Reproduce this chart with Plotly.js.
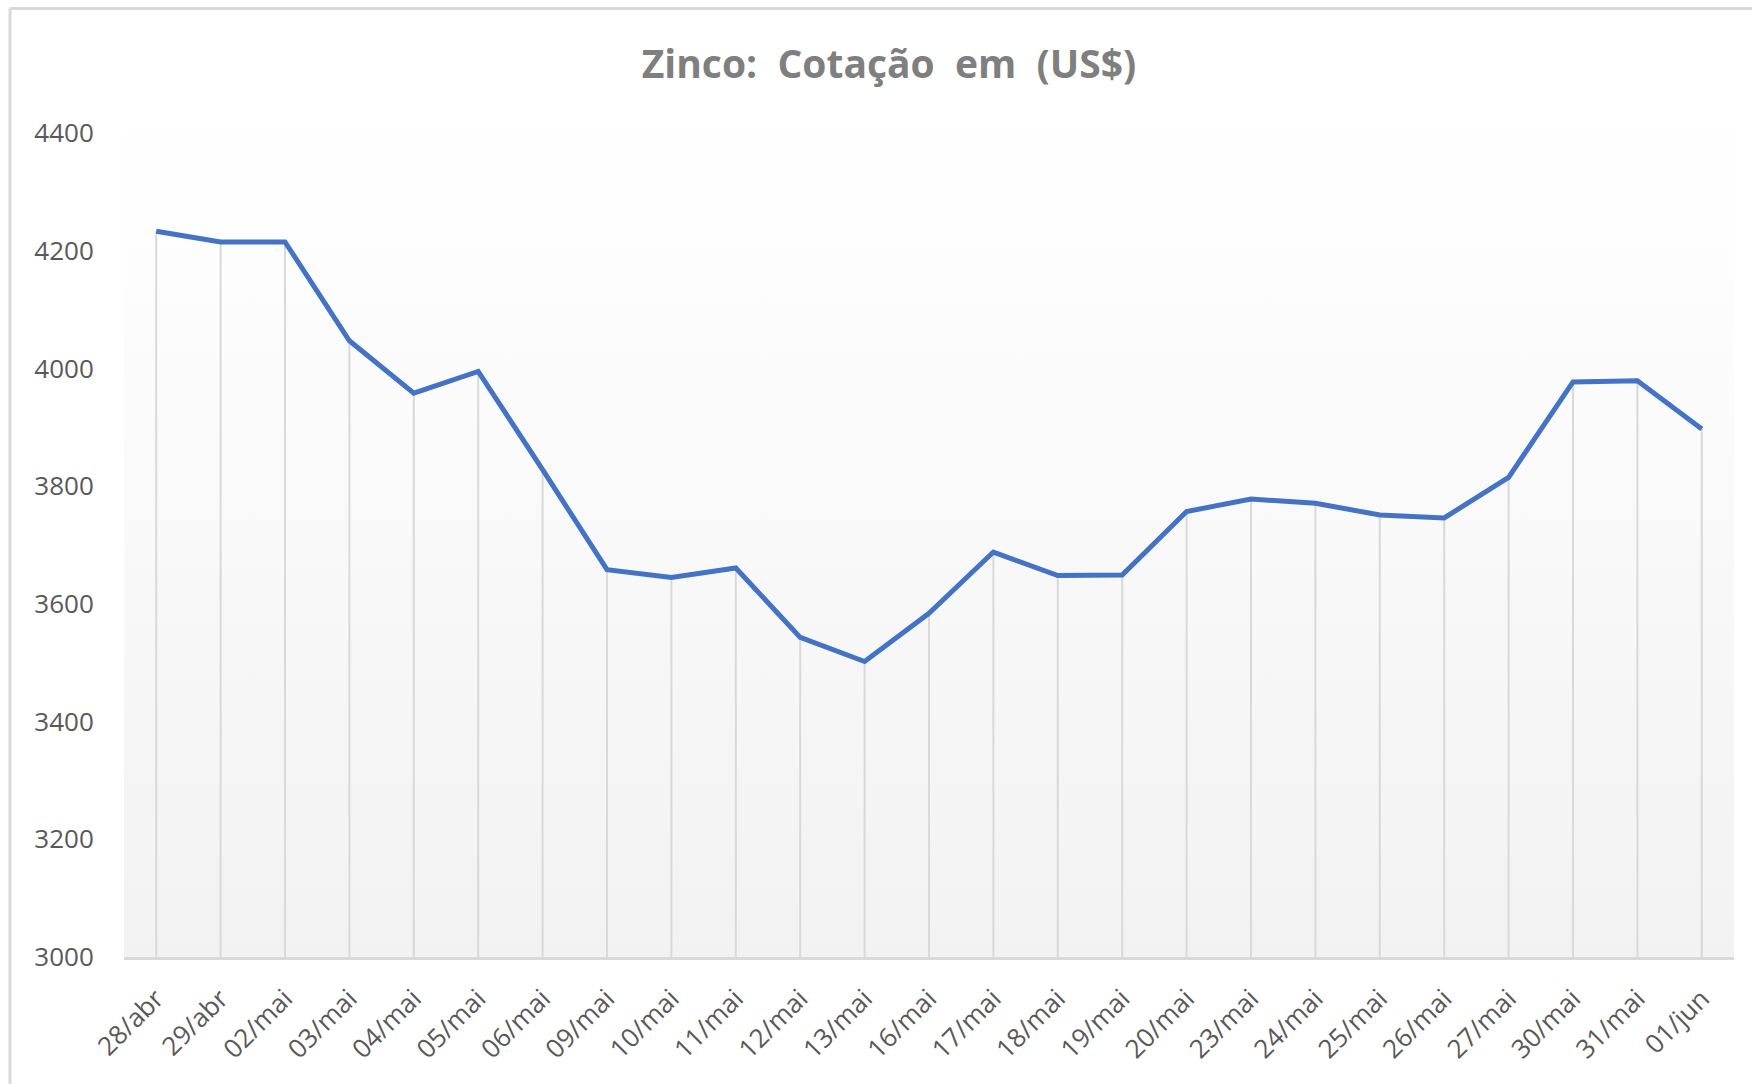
<!DOCTYPE html>
<html>
<head>
<meta charset="utf-8">
<script src="https://cdn.plot.ly/plotly-3.0.1.min.js"></script>
<style>
  html, body { margin: 0; padding: 0; background: #ffffff; }
  #chart { width: 1752px; height: 1084px; }
</style>
</head>
<body>
<div id="chart"></div>
<script>
// ---- Data ----
const chartTitle = "Zinco:&nbsp; Cotação&nbsp; em&nbsp; (US$)";
const dates = ["28/abr","29/abr","02/mai","03/mai","04/mai","05/mai","06/mai","09/mai","10/mai","11/mai","12/mai","13/mai","16/mai","17/mai","18/mai","19/mai","20/mai","23/mai","24/mai","25/mai","26/mai","27/mai","30/mai","31/mai","01/jun"];
const prices = [4233, 4215, 4215, 4047, 3958, 3995, 3828, 3658, 3645, 3661, 3543, 3502, 3584, 3688, 3648, 3649, 3757, 3778, 3771, 3751, 3746, 3815, 3977, 3979, 3897];
const yTicks = [3000, 3200, 3400, 3600, 3800, 4000, 4200, 4400];

// ---- Derived ----
const yMin = yTicks[0];
const yMax = yTicks[yTicks.length - 1];
const idx = dates.map((d, i) => i);
const xRange = [-0.5, dates.length - 0.5];

// drop lines from axis to each point
const dropX = [], dropY = [];
prices.forEach((v, i) => { dropX.push(i, i, null); dropY.push(yMin, v, null); });

const bgTrace = {
  x: xRange, y: [yMax, yMax],
  mode: 'none', fill: 'tozeroy',
  fillgradient: { type: 'vertical', start: yMin, stop: 4250,
    colorscale: [[0, '#f2f2f2'], [1, '#fefefe']] },
  hoverinfo: 'skip', showlegend: false
};

const dropTrace = {
  x: dropX, y: dropY, mode: 'lines',
  line: { color: '#d9d9d9', width: 2 },
  hoverinfo: 'skip', showlegend: false
};

const lineTrace = {
  x: idx, y: prices, mode: 'lines',
  line: { color: '#4472c4', width: 5 },
  name: 'Zinco', showlegend: false
};

const tickFont = { family: 'Open Sans, sans-serif', size: 26, color: '#595959' };

const layout = {
  width: 1752, height: 1084,
  margin: { l: 124, r: 18, t: 133, b: 127 },
  paper_bgcolor: '#ffffff', plot_bgcolor: '#ffffff',
  title: {
    text: '<b>' + chartTitle + '</b>',
    font: { family: 'Open Sans, sans-serif', size: 39, color: '#7f7f7f' },
    xref: 'container', yref: 'container',
    x: 889 / 1752, xanchor: 'center',
    y: 1 - 64 / 1084, yanchor: 'middle'
  },
  xaxis: {
    type: 'linear', range: xRange,
    tickmode: 'array', tickvals: idx, ticktext: dates,
    tickangle: -45, tickfont: tickFont,
    ticks: 'outside', ticklen: 13, tickcolor: 'rgba(0,0,0,0)',
    showgrid: false, zeroline: false,
    showline: true, linecolor: '#d9d9d9', linewidth: 3,
    fixedrange: true
  },
  yaxis: {
    range: [yMin, yMax],
    tickmode: 'array', tickvals: yTicks, ticktext: yTicks.map(String),
    tickfont: tickFont,
    ticks: 'outside', ticklen: 24, tickcolor: 'rgba(0,0,0,0)',
    showgrid: false, zeroline: false, showline: false,
    fixedrange: true
  },
  shapes: [
    { type: 'line', xref: 'paper', yref: 'paper',
      x0: (10 - 124) / 1610, x1: (10 - 124) / 1610,
      y0: (957 - 1084) / 824, y1: 1 + (133 - 8.5) / 824,
      line: { color: '#d9d9d9', width: 3 } },
    { type: 'line', xref: 'paper', yref: 'paper',
      x0: (10 - 124) / 1610, x1: (1752 - 124) / 1610,
      y0: 1 + (133 - 8.5) / 824, y1: 1 + (133 - 8.5) / 824,
      line: { color: '#d9d9d9', width: 3 } }
  ],
  hovermode: false
};

Plotly.newPlot('chart', [bgTrace, dropTrace, lineTrace], layout, { displayModeBar: false, staticPlot: true });
</script>
</body>
</html>
